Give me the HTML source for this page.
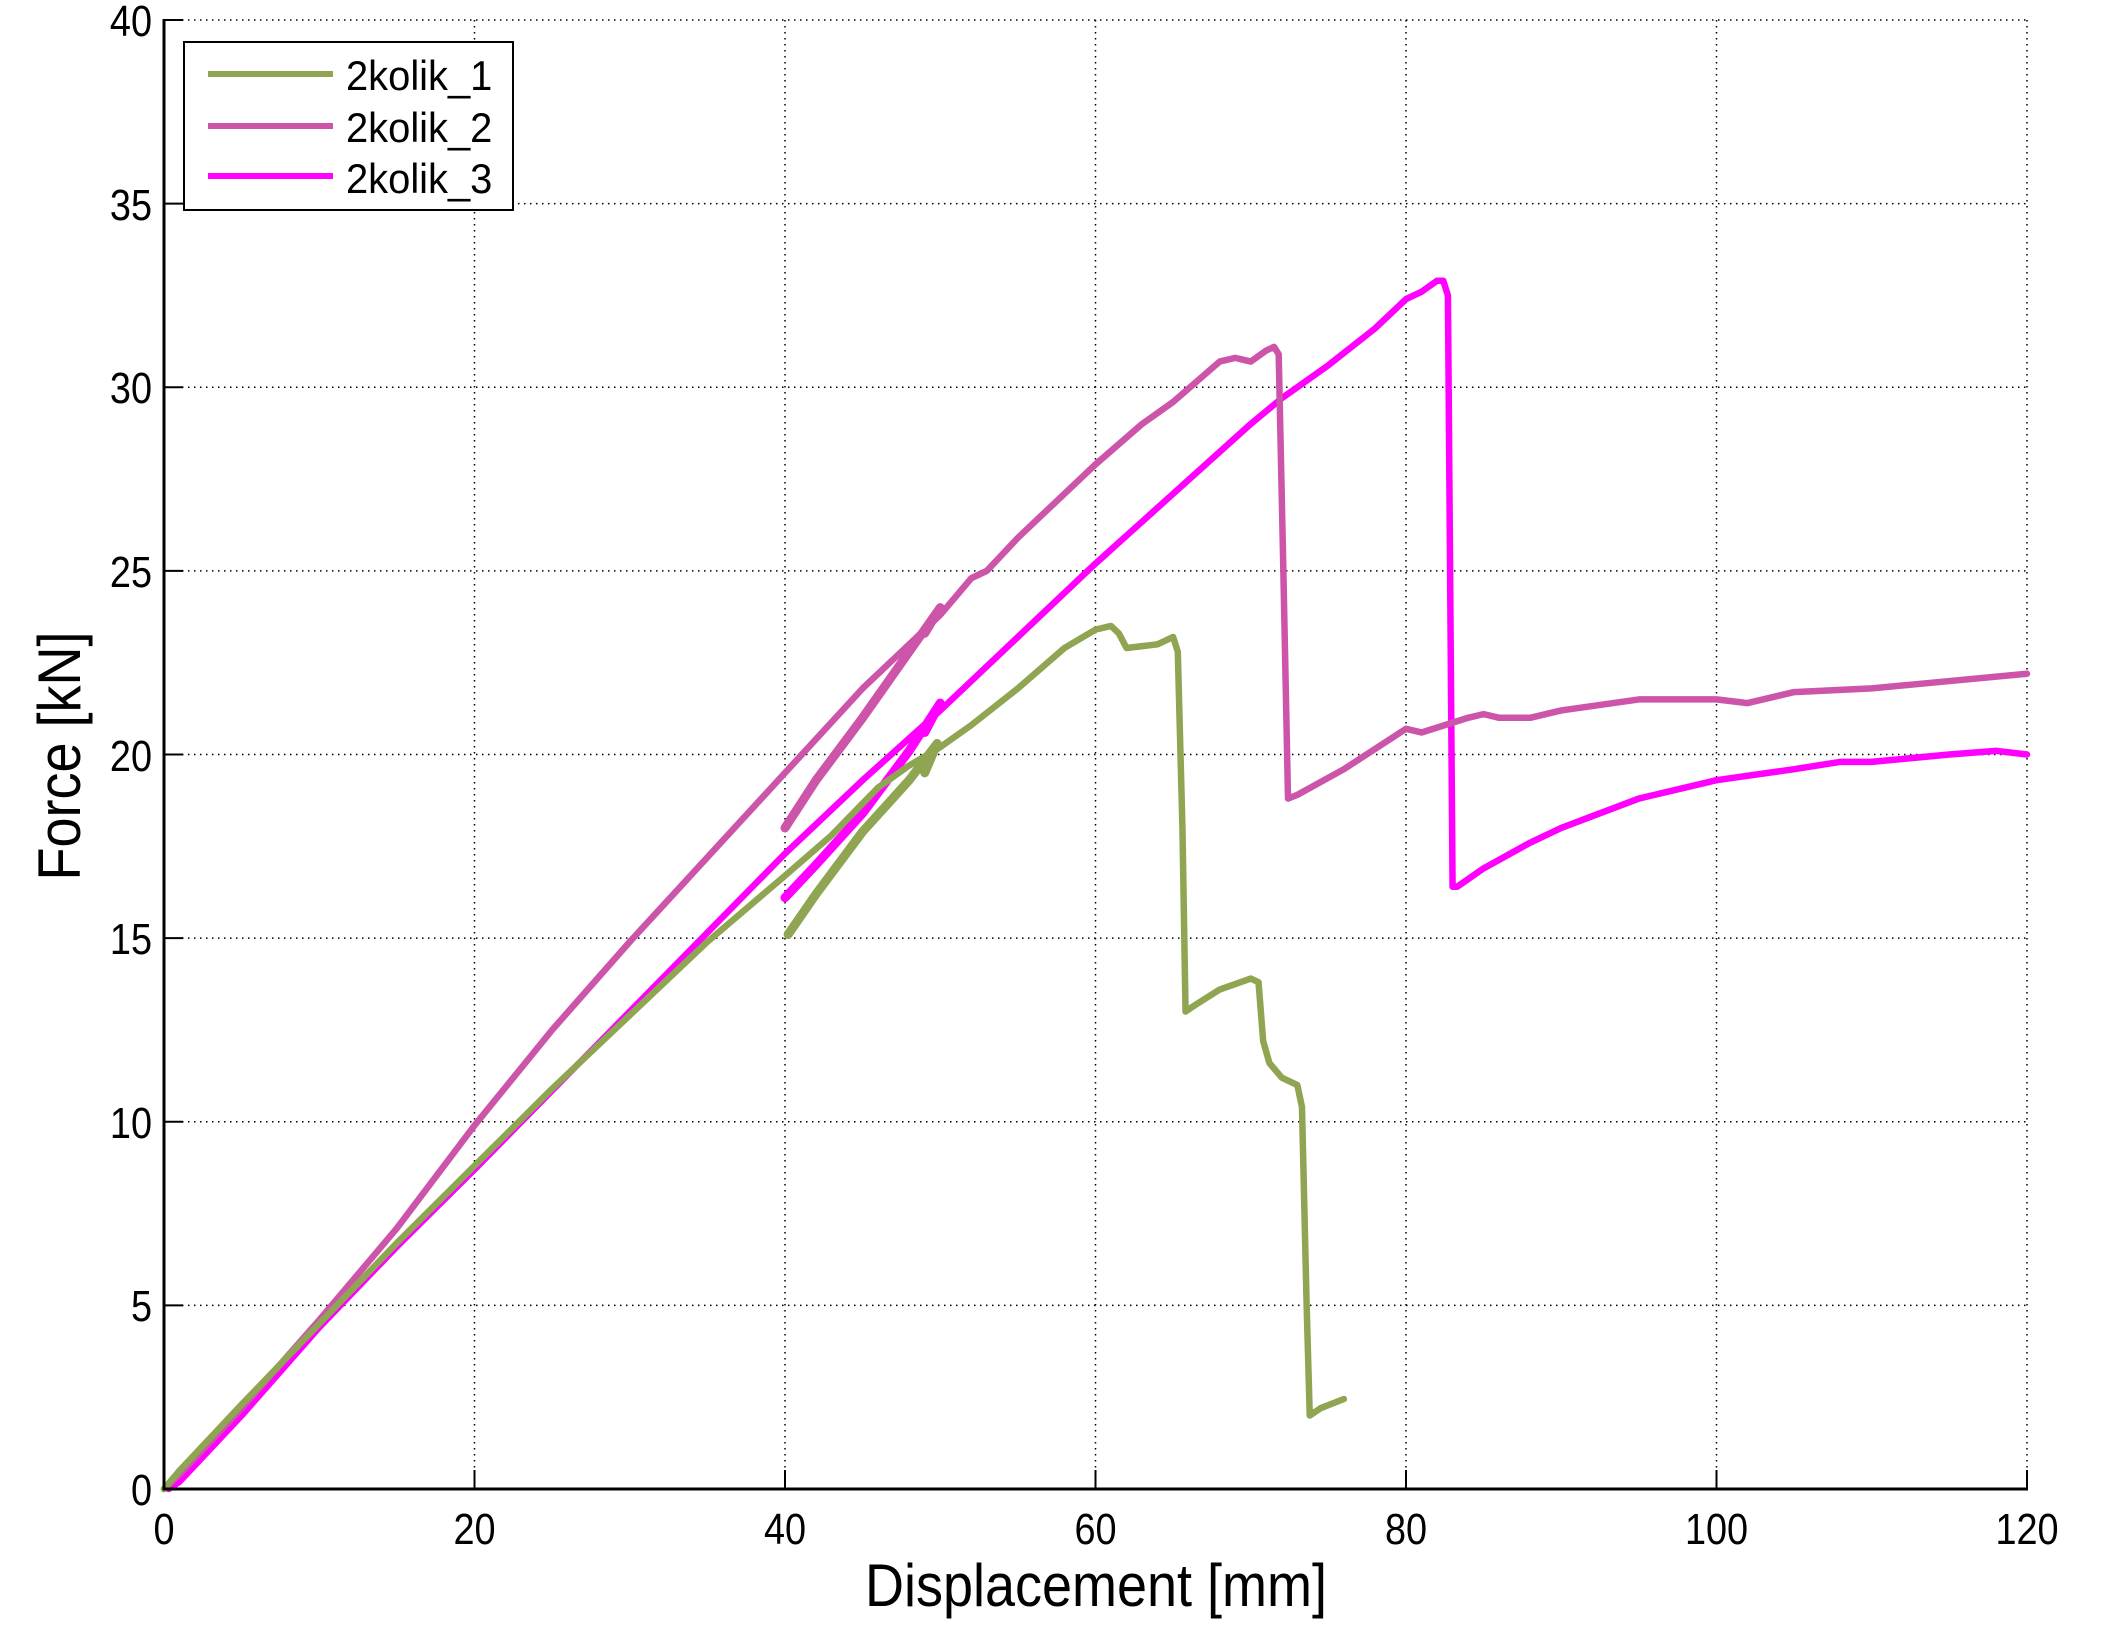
<!DOCTYPE html>
<html><head><meta charset="utf-8"><style>
html,body{margin:0;padding:0;background:#fff;}
svg{display:block;}
text{font-family:"Liberation Sans",Arial,sans-serif;fill:#000;}
</style></head><body>
<svg width="2108" height="1629" viewBox="0 0 2108 1629" xmlns="http://www.w3.org/2000/svg">
<rect width="2108" height="1629" fill="#fff"/>
<g stroke="#000" stroke-width="1.5" stroke-dasharray="1.5,4.5" fill="none">
<line x1="474.5" y1="20" x2="474.5" y2="1489"/>
<line x1="785" y1="20" x2="785" y2="1489"/>
<line x1="1095.5" y1="20" x2="1095.5" y2="1489"/>
<line x1="1406" y1="20" x2="1406" y2="1489"/>
<line x1="1716.5" y1="20" x2="1716.5" y2="1489"/>
<line x1="2027" y1="20" x2="2027" y2="1489"/>
<line x1="164" y1="20" x2="2027" y2="20"/>
<line x1="164" y1="203.6" x2="2027" y2="203.6"/>
<line x1="164" y1="387.3" x2="2027" y2="387.3"/>
<line x1="164" y1="570.9" x2="2027" y2="570.9"/>
<line x1="164" y1="754.5" x2="2027" y2="754.5"/>
<line x1="164" y1="938.1" x2="2027" y2="938.1"/>
<line x1="164" y1="1121.8" x2="2027" y2="1121.8"/>
<line x1="164" y1="1305.4" x2="2027" y2="1305.4"/>
</g>
<g stroke="#000" stroke-width="2" fill="none">
<line x1="474.5" y1="1489" x2="474.5" y2="1470"/>
<line x1="785" y1="1489" x2="785" y2="1470"/>
<line x1="1095.5" y1="1489" x2="1095.5" y2="1470"/>
<line x1="1406" y1="1489" x2="1406" y2="1470"/>
<line x1="1716.5" y1="1489" x2="1716.5" y2="1470"/>
<line x1="2027" y1="1489" x2="2027" y2="1470"/>
<line x1="164" y1="20" x2="183" y2="20"/>
<line x1="164" y1="203.6" x2="183" y2="203.6"/>
<line x1="164" y1="387.3" x2="183" y2="387.3"/>
<line x1="164" y1="570.9" x2="183" y2="570.9"/>
<line x1="164" y1="754.5" x2="183" y2="754.5"/>
<line x1="164" y1="938.1" x2="183" y2="938.1"/>
<line x1="164" y1="1121.8" x2="183" y2="1121.8"/>
<line x1="164" y1="1305.4" x2="183" y2="1305.4"/>
</g>
<g transform="translate(164,1489) scale(15.525,-36.725)" fill="none" stroke-linejoin="round" stroke-linecap="round">
<g stroke="#FF00FF">
<polyline vector-effect="non-scaling-stroke" stroke-width="6.5" points="0.3,0 1,0.2 3,1.1 5,2.0 10,4.4 15,6.6 20,8.7 25,10.85 30,13.0 35,15.15 40,17.3 45,19.3 50,21.2 55,23.2 60,25.2 65,27.1 70,29.0 72,29.7 75,30.6 78,31.6 80,32.4 81,32.6 82,32.9 82.4,32.9 82.7,32.5 83,16.4 83.3,16.4 85,16.9 88,17.6 90,18.0 95,18.8 100,19.3 105,19.6 108,19.8 110,19.8 115,20.0 118,20.1 120,20.0"/>
<polyline vector-effect="non-scaling-stroke" stroke-width="9" points="40,16.1 42,17.0 45,18.4 48,20.1 50,21.4 49,20.6"/>
</g>
<g stroke="#CC55AA">
<polyline vector-effect="non-scaling-stroke" stroke-width="6.5" points="0,0 1,0.4 3,1.3 5,2.2 10,4.6 15,7.1 20,9.9 25,12.5 30,14.9 35,17.2 40,19.5 45,21.8 50,23.8 52,24.8 53,25.0 55,25.9 57,26.7 60,27.9 63,29.0 65,29.6 68,30.7 69,30.8 70,30.7 71,31.0 71.5,31.1 71.8,30.9 72.1,25 72.4,18.8 73,18.9 76,19.6 80,20.7 81,20.6 84,21.0 85,21.1 86,21.0 88,21.0 90,21.2 95,21.5 100,21.5 102,21.4 105,21.7 110,21.8 115,22.0 120,22.2"/>
<polyline vector-effect="non-scaling-stroke" stroke-width="9" points="40,18.0 42,19.3 45,21.0 48,22.8 50,24.0 49,23.3"/>
</g>
<g stroke="#8FA552">
<polyline vector-effect="non-scaling-stroke" stroke-width="6.5" points="0,0 1,0.5 3,1.4 5,2.3 10,4.5 15,6.7 20,8.8 25,10.9 30,12.9 35,14.9 40,16.7 43,17.8 46,19.1 48,19.7 50,20.2 52,20.8 55,21.8 58,22.9 60,23.4 61,23.5 61.5,23.3 62,22.9 64,23.0 65,23.2 65.3,22.8 65.6,18 65.8,13.0 66.5,13.2 68,13.6 70,13.9 70.5,13.8 70.8,12.2 71.2,11.6 72,11.2 73,11.0 73.3,10.4 73.6,5 73.8,2.0 74.5,2.2 76,2.45"/>
<polyline vector-effect="non-scaling-stroke" stroke-width="9" points="40.2,15.1 42,16.2 45,17.9 48,19.3 49.8,20.3 49,19.5"/>
</g>
</g>
<g stroke="#000" stroke-width="3" fill="none">
<line x1="164" y1="19" x2="164" y2="1490"/>
<line x1="163" y1="1489" x2="2028" y2="1489"/>
</g>
<g font-size="44" text-anchor="end">
<text transform="translate(152,1505) scale(0.86,1)">0</text>
<text transform="translate(152,1321) scale(0.86,1)">5</text>
<text transform="translate(152,1138) scale(0.86,1)">10</text>
<text transform="translate(152,954) scale(0.86,1)">15</text>
<text transform="translate(152,771) scale(0.86,1)">20</text>
<text transform="translate(152,587) scale(0.86,1)">25</text>
<text transform="translate(152,403) scale(0.86,1)">30</text>
<text transform="translate(152,220) scale(0.86,1)">35</text>
<text transform="translate(152,36) scale(0.86,1)">40</text>
</g>
<g font-size="44" text-anchor="middle">
<text transform="translate(164,1544) scale(0.86,1)">0</text>
<text transform="translate(474.5,1544) scale(0.86,1)">20</text>
<text transform="translate(785,1544) scale(0.86,1)">40</text>
<text transform="translate(1095.5,1544) scale(0.86,1)">60</text>
<text transform="translate(1406,1544) scale(0.86,1)">80</text>
<text transform="translate(1716.5,1544) scale(0.86,1)">100</text>
<text transform="translate(2027,1544) scale(0.86,1)">120</text>
</g>
<text transform="translate(1096,1606) scale(0.9,1)" font-size="60" text-anchor="middle">Displacement [mm]</text>
<text transform="translate(80,756) rotate(-90) scale(0.9,1)" font-size="60" text-anchor="middle">Force [kN]</text>
<rect x="184" y="42" width="329" height="168" fill="#fff" stroke="#000" stroke-width="2"/>
<line x1="208" y1="74" x2="333" y2="74" stroke="#8FA552" stroke-width="6"/>
<line x1="208" y1="126" x2="333" y2="126" stroke="#CC55AA" stroke-width="6"/>
<line x1="208" y1="176" x2="333" y2="176" stroke="#FF00FF" stroke-width="6"/>
<g font-size="42">
<text transform="translate(346,90) scale(0.95,1)">2kolik_1</text>
<text transform="translate(346,142) scale(0.95,1)">2kolik_2</text>
<text transform="translate(346,193) scale(0.95,1)">2kolik_3</text>
</g>
</svg>
</body></html>
